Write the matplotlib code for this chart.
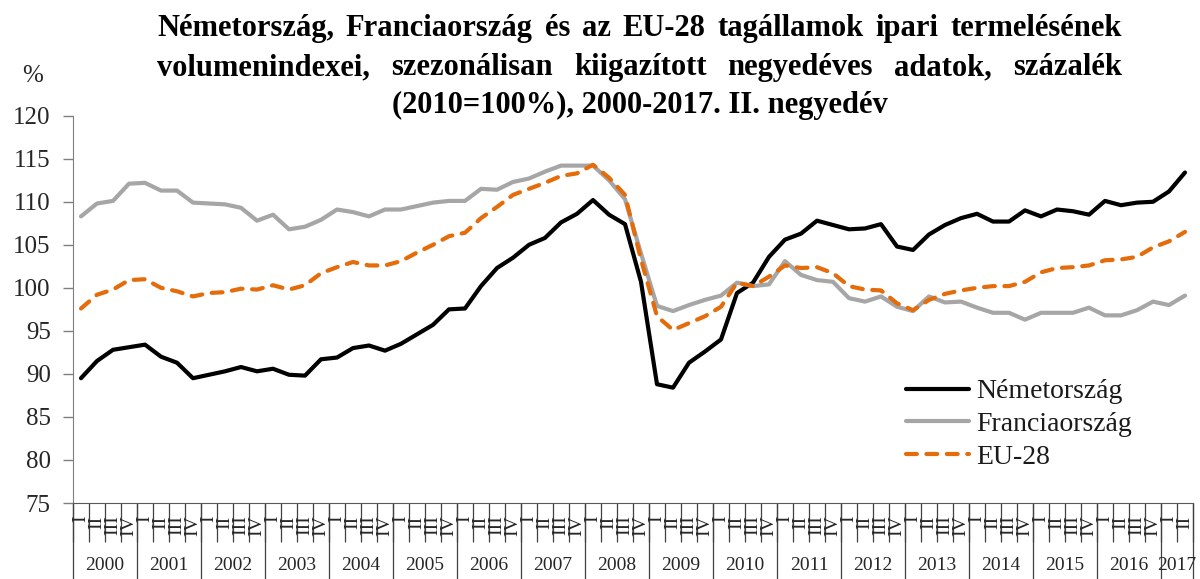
import matplotlib
matplotlib.use("Agg")
import matplotlib.pyplot as plt
import numpy as np

plt.rcParams['font.family'] = ['Liberation Serif', 'DejaVu Serif']

years = [str(y) for y in range(2000, 2018)]
quarter_labels = ['I', 'II', 'III', 'IV']
n_quarters = 70  # 2000 Q1 .. 2017 Q2

germany = [89.5, 91.5, 92.8, 93.1, 93.4, 92.0, 91.3, 89.5, 89.9, 90.3,
           90.8, 90.3, 90.6, 89.9, 89.8, 91.7, 91.9, 93.0, 93.3, 92.7,
           93.5, 94.6, 95.7, 97.5, 97.6, 100.2, 102.3, 103.5, 105.0, 105.8,
           107.6, 108.6, 110.2, 108.5, 107.4, 100.7, 88.8, 88.4, 91.3, 92.6,
           94.0, 99.4, 100.6, 103.6, 105.6, 106.3, 107.8, 107.3, 106.8, 106.9,
           107.4, 104.8, 104.4, 106.2, 107.3, 108.1, 108.6, 107.7, 107.7, 109.0,
           108.3, 109.1, 108.9, 108.5, 110.1, 109.6, 109.9, 110.0, 111.2, 113.4]
france = [108.3, 109.8, 110.1, 112.1, 112.2, 111.3, 111.3, 109.9, 109.8, 109.7,
          109.3, 107.8, 108.5, 106.8, 107.1, 107.9, 109.1, 108.8, 108.3, 109.1,
          109.1, 109.5, 109.9, 110.1, 110.1, 111.5, 111.4, 112.3, 112.7, 113.5,
          114.2, 114.2, 114.2, 112.5, 110.3, 104.0, 97.9, 97.3, 98.0, 98.6,
          99.1, 100.6, 100.2, 100.4, 103.1, 101.5, 100.9, 100.7, 98.8, 98.4,
          99.0, 97.8, 97.3, 99.0, 98.3, 98.4, 97.7, 97.1, 97.1, 96.3,
          97.1, 97.1, 97.1, 97.7, 96.8, 96.8, 97.4, 98.4, 98.0, 99.1]
eu28 = [97.6, 99.2, 99.8, 100.9, 101.0, 100.0, 99.6, 99.0, 99.4, 99.5,
        99.9, 99.8, 100.3, 99.8, 100.3, 101.7, 102.4, 103.0, 102.6, 102.6,
        103.1, 104.1, 105.0, 106.0, 106.4, 108.1, 109.4, 110.8, 111.5, 112.2,
        113.0, 113.3, 114.3, 112.8, 110.8, 103.3, 96.7, 95.1, 95.9, 96.7,
        97.8, 100.6, 100.2, 101.3, 102.6, 102.3, 102.4, 101.7, 100.2, 99.8,
        99.7, 98.2, 97.4, 98.6, 99.3, 99.7, 100.0, 100.2, 100.2, 100.7,
        101.8, 102.3, 102.4, 102.6, 103.2, 103.3, 103.6, 104.7, 105.4, 106.5]

series_names = ['Németország', 'Franciaország', 'EU-28']
title_lines = ['Németország, Franciaország és az EU-28 tagállamok ipari termelésének',
               'volumenindexei,  szezonálisan kiigazított negyedéves adatok, százalék',
               '(2010=100%), 2000-2017. II. negyedév']

W, H = 1200, 579
fig = plt.figure(figsize=(W / 100, H / 100), dpi=100)
ax = fig.add_axes([73 / W, 1 - 503 / H, (1193 - 73) / W, (503 - 115.7) / H])

x = np.arange(n_quarters)
ax.plot(x, germany, color='black', lw=3.0, label=series_names[0], solid_capstyle='round')
ax.plot(x, france, color='#A6A6A6', lw=3.0, label=series_names[1], solid_capstyle='round')
ax.plot(x, eu28, color='#E46C0A', lw=3.0, label=series_names[2],
        dashes=(2.6, 2.3), dash_capstyle='round')

ax.set_xlim(-0.5, n_quarters - 0.5)
ax.set_ylim(75, 120)
ax.set_yticks(np.arange(75, 121, 5))
ax.tick_params(axis='y', length=7, width=1, color='#7f7f7f', labelsize=18,
               labelcolor='#262626', pad=9)
for s in ['top', 'right']:
    ax.spines[s].set_visible(False)
ax.spines['left'].set_color('#7f7f7f')
ax.spines['bottom'].set_color('#595959')

# quarter boundaries and quarter labels
ax.set_xticks(np.arange(-0.5, n_quarters, 1.0))
ax.set_xticklabels([])
ax.tick_params(axis='x', which='major', length=28, width=0.9, color='#404040', direction='out')
ax.set_xticks(x, minor=True)
ax.set_xticklabels([quarter_labels[i % 4] for i in x], minor=True, rotation=90,
                   fontsize=14, color='#262626')
ax.tick_params(axis='x', which='minor', length=0, pad=9)

# year separators and labels
sec = ax.secondary_xaxis(0)
year_starts = np.arange(-0.5, n_quarters, 4.0)
sec.set_xticks(list(year_starts) + [n_quarters - 0.5])
sec.set_xticklabels([])
sec.tick_params(axis='x', which='major', length=60, width=0.9, color='#404040')
year_centers = [min(s + 2.0, (s + n_quarters - 0.5) / 2) for s in year_starts]
sec.set_xticks(year_centers, minor=True)
sec.set_xticklabels(years, minor=True, fontsize=14, color='#262626')
sec.tick_params(axis='x', which='minor', length=0, pad=39)
sec.spines['bottom'].set_visible(False)

# legend
leg = ax.legend(loc='upper left', bbox_to_anchor=(906 / W, 1 - 379 / H),
                bbox_transform=fig.transFigure, frameon=False, fontsize=20,
                handlelength=2.25, handletextpad=0.28, labelspacing=0.26,
                borderpad=0, borderaxespad=0)
for t in leg.get_texts():
    t.set_color('#1a1a1a')

# y unit label
fig.text(22 / W, 1 - 82 / H, '%', fontsize=18, color='#262626', va='baseline', ha='left')

# title with justified first two lines
fig.canvas.draw()
renderer = fig.canvas.get_renderer()

def justified(text, x0, x1, ybase, size):
    words = text.split()
    objs = [fig.text(0, 1 - ybase / H, w, fontsize=size, fontweight='bold',
                     va='baseline', ha='left') for w in words]
    widths = [o.get_window_extent(renderer).width for o in objs]
    gap = (x1 - x0 - sum(widths)) / (len(words) - 1)
    pos = x0
    for o, w in zip(objs, widths):
        o.set_x(pos / W)
        pos += w + gap

justified(title_lines[0], 157, 1122, 36, 22)
justified(title_lines[1], 157, 1122, 75, 22)
fig.text(640 / W, 1 - 113 / H, title_lines[2], fontsize=22, fontweight='bold',
         va='baseline', ha='center')

fig.savefig('out.png', dpi=100)
